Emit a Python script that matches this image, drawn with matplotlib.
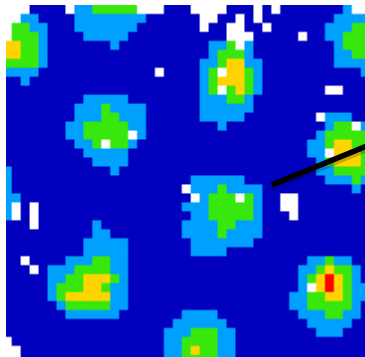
import numpy as np
import matplotlib
matplotlib.use("Agg")
import matplotlib.pyplot as plt
from matplotlib.colors import ListedColormap, Normalize

# occupancy levels per cell: 0-4, "-" is an unvisited (white) cell
rows = [
    "---0000-1122222---000----000-0-00000001--",
    "--11000011111111000000--00-0-000000001111",
    "-221100011111110000000-00--00-00000011122",
    "-222100001111100000000000---00000-0011222",
    "33221000000010000000000112-10000000001222",
    "33221000000000000000000122210000000001122",
    "22221000000000000000001123311000000001111",
    "11110000000000000-000012-3321000000000001",
    "00100000000000000000001233321000000000000",
    "000000000000000000000012-23210000000--000",
    "00000000011111000000001112210000000000000",
    "00000000111211110000001111110000000000000",
    "00000000111221110000001111100000000-11100",
    "000000011222221100000000100000000000122-1",
    "00000001122222-10000000000000000000122222",
    "00000000112-22100000000000000000001123322",
    "000000000111110000000000000000000011-3332",
    "00000000001111000000000000000000000123332",
    "10000000000010000000000000000000000112222",
    "10000000000000000000011111100000000011121",
    "10000000000000000000-11121111000000000010",
    "110000000000000000000-1222-2100--00000000",
    "1-0-000000000000000011122222100--00000000",
    "1-0-0000000000000000011222221000-00000000",
    "000-0000001000000000111122111000000000000",
    "00000000001100000000111121111000000000000",
    "00000000011111000000011111110000000000000",
    "00000000011111000000011110000000000000000",
    "00-00001112211000000000000000000001121100",
    "000-0111222211000000000000000000011232210",
    "00000112233321000000000000000000012343210",
    "000001222332110000000000000000000" + "1-343211",
    "00000123333311000000000000000000" + "112233211",
    "00000012222211000000000000000000" + "112222210",
    "0000000111111" + "0000000" + "1111" + "000000000" + "11122110",
    "0000000000000000000" + "111111" + "000000000" + "1111100",
    "000000000000000000" + "11122211" + "000000000" + "111000",
    "-00000000000000000" + "11222211" + "000000000000000",
    "--0000000000000000" + "11232211" + "000000000000000",
    "--0000000000000000" + "11222211" + "000000000000000",
]
level_colors = ["#0000BE", "#00A0FF", "#38E80C", "#FFD400", "#FF0000"]

# heading line, in cell units
line_x = [30.05, 40.6]
line_y = [20.05, 15.75]

grid = np.array([[np.nan if c == "-" else int(c) for c in r] for r in rows])

cmap = ListedColormap(level_colors)
cmap.set_bad("white")
norm = Normalize(vmin=-0.5, vmax=4.5)

# the original is a resized bitmap, so soften the cell edges a little
rgb = cmap(norm(np.ma.masked_invalid(grid)))[:, :, :3]
rgb = np.repeat(np.repeat(rgb, 5, axis=0), 5, axis=1)

fig = plt.figure(figsize=(3.65, 3.57), dpi=100)
ax = fig.add_axes([6 / 365, 0, 359 / 365, 352 / 357])
ax.imshow(rgb, extent=(0, 41, 40, 0), aspect="auto", interpolation="bilinear")
ax.plot(line_x, line_y, color="black", linewidth=3.0, alpha=0.2, solid_capstyle="butt",
        transform=ax.transData + matplotlib.transforms.ScaledTranslation(0, -3 / 72, fig.dpi_scale_trans))
ax.plot(line_x, line_y, color="black", linewidth=4.0, solid_capstyle="butt")
ax.set_xlim(0.358, 40.47)
ax.set_ylim(39.24, 0)
ax.axis("off")

fig.savefig("out.png", dpi=100)
